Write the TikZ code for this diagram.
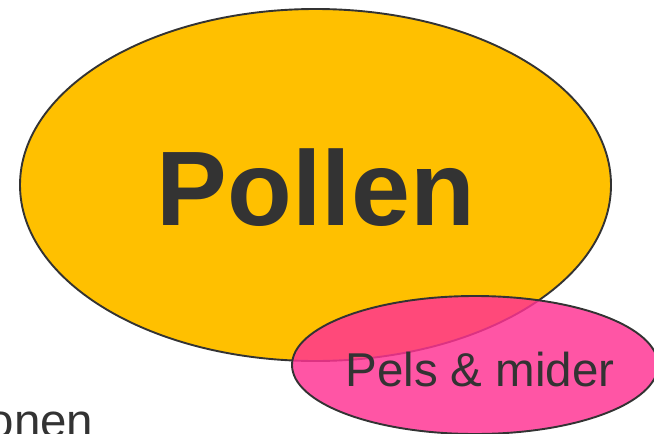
\documentclass[tikz,border=0pt]{standalone}
\usepackage{fontspec}
\setmainfont{Liberation Sans}
\usetikzlibrary{shapes.geometric}
\definecolor{PollenAmber}{HTML}{FFC000}
\definecolor{MiderPink}{HTML}{FF3293}
\definecolor{InkGray}{HTML}{333333}
\tikzset{
  pollenblob/.style={ellipse, draw=InkGray, line width=1.9pt, fill=PollenAmber,
    inner sep=0pt, minimum width=591pt, minimum height=352pt},
  miderblob/.style={ellipse, draw=InkGray, line width=1.9pt, fill=MiderPink,
    fill opacity=0.83, inner sep=0pt, minimum width=366pt, minimum height=138pt},
  bigword/.style={text=InkGray, inner sep=0pt, anchor=base,
    font=\bfseries\fontsize{106}{110}\selectfont},
  midword/.style={text=InkGray, inner sep=0pt,
    font=\fontsize{47.5}{52}\selectfont}
}
\begin{document}
\begin{tikzpicture}[x=1pt, y=-1pt]
  \useasboundingbox (0,0) rectangle (654,434);
  \clip (0,0) rectangle (654,434);
  \node[pollenblob] (pollen) at (315.5,185) {};
  \node[bigword] (pollenword) at (316,225) {Pollen};
  \node[miderblob] (mider) at (475,365) {};
  \node[midword, anchor=base] (miderword) at (480,386) {Pels \& mider};
  \node[midword, anchor=base east] (restword) at (93.5,437) {onen};
\end{tikzpicture}
\end{document}
